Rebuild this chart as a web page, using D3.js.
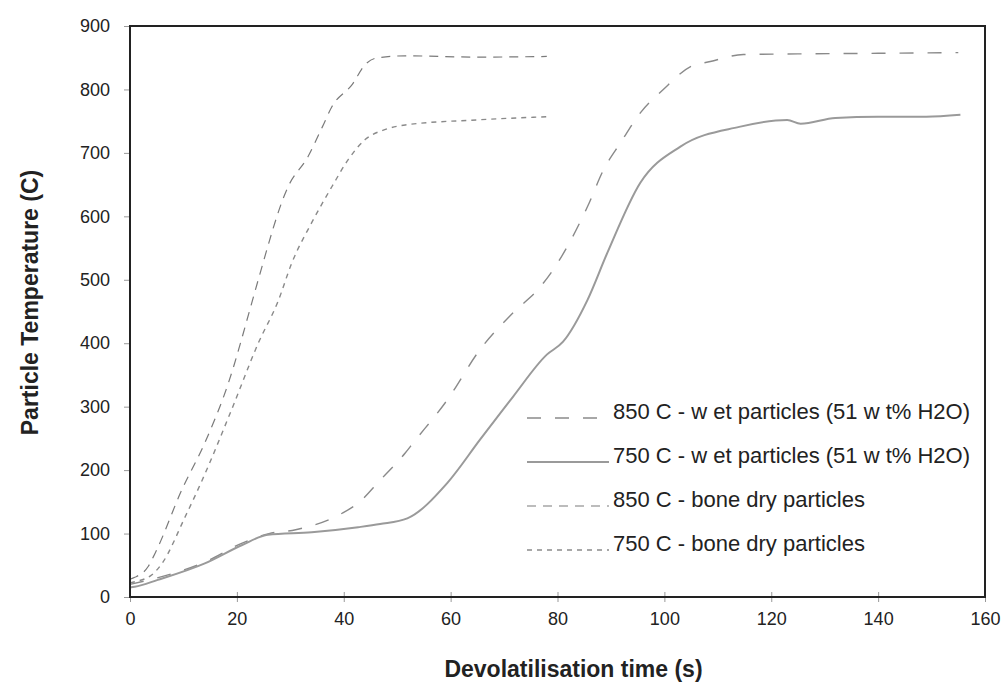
<!DOCTYPE html>
<html>
<head>
<meta charset="utf-8">
<script src="https://cdn.jsdelivr.net/npm/d3@7"></script>
<style>
  body { margin: 0; background: #fff; }
  svg { font-family: "Liberation Sans", Arial, sans-serif; }
  .axis text { font-size: 18px; fill: #222; }
  .axis path { display: none; }
  .axis line { stroke: #999; }
</style>
</head>
<body>
<svg id="chart" width="1003" height="683"></svg>
<script>
// time (s) / temperature (C)
const wet850Time = [0, 5, 14, 21, 26, 31, 39.7, 42.7, 46.8, 51.5, 53, 59.4, 65.5, 71.7, 76.8, 79.2, 85.6, 88.6, 91.8, 95.5, 99.8, 104.9, 108.6, 114.8, 125, 140, 155];
const wet850Temp = [20, 30, 55, 85, 100, 106, 132, 148, 184, 227, 243, 311, 390, 448, 489, 516, 615, 673, 716, 763, 800, 836, 844, 855, 856, 857, 858];

const wet750Time = [0, 0.9, 5.2, 14, 21, 25.8, 34, 42.7, 46.8, 51.9, 59.4, 65.5, 71.7, 78, 81, 85.6, 89.3, 95.5, 103, 114, 123, 125.5, 132, 140, 149, 155.4];
const wet750Temp = [15, 16, 27, 53, 82, 98, 102, 110, 115, 124, 180, 248, 316, 382, 402, 468, 542, 653, 710, 741, 752, 746, 755, 757, 757, 760];

const dry850Time = [0, 0.9, 3.4, 4.7, 9.7, 14, 18.4, 22.8, 24, 29.6, 33.3, 36, 37.8, 41.6, 44, 45.9, 51.5, 65, 78];
const dry850Temp = [28, 31, 48, 69, 169, 243, 337, 464, 500, 647, 694, 741, 773, 808, 839, 849, 853, 851, 852];

const dry750Time = [0, 0.9, 4.1, 6, 10.3, 13.5, 19, 24, 27.7, 30.3, 34, 37.8, 40.8, 44, 47.8, 51.5, 65, 78];
const dry750Temp = [22, 24, 35, 53, 126, 184, 295, 400, 466, 527, 590, 647, 689, 721, 737, 744, 752, 757];

const xTicks = [0, 20, 40, 60, 80, 100, 120, 140, 160];
const yTicks = [0, 100, 200, 300, 400, 500, 600, 700, 800, 900];

const seriesNames = ["850 C - w et particles (51 w t% H2O)", "750 C - w et particles (51 w t% H2O)", "850 C - bone dry particles", "750 C - bone dry particles"];

const svg = d3.select("#chart");
const margin = {top: 26, right: 18, bottom: 86, left: 130};
const width = 1003 - margin.left - margin.right;
const height = 683 - margin.top - margin.bottom;
const g = svg.append("g").attr("transform", "translate(" + margin.left + "," + margin.top + ")");

const x = d3.scaleLinear().domain([0, 160]).range([0, width]);
const y = d3.scaleLinear().domain([0, 900]).range([height, 0]);

const styles = [
  {dash: "14,14", color: "#8a8a8a", w: 1.4},
  {dash: null, color: "#9a9a9a", w: 2},
  {dash: "9,7", color: "#7a7a7a", w: 1.2},
  {dash: "5,5", color: "#8a8a8a", w: 1.4}
];

const series = [
  d3.zip(wet850Time, wet850Temp),
  d3.zip(wet750Time, wet750Temp),
  d3.zip(dry850Time, dry850Temp),
  d3.zip(dry750Time, dry750Temp)
];

// axes
g.append("g")
    .attr("class", "axis")
    .attr("transform", "translate(0," + height + ")")
    .call(d3.axisBottom(x).tickValues(xTicks).tickSize(5).tickPadding(10).tickFormat(d3.format("d")))
  .selectAll("line").attr("y1", -5);

g.append("g")
    .attr("class", "axis")
    .call(d3.axisLeft(y).tickValues(yTicks).tickSize(6).tickPadding(14).tickFormat(d3.format("d")));

const line = d3.line()
    .x(function(d) { return x(d[0]); })
    .y(function(d) { return y(d[1]); })
    .curve(d3.curveMonotoneX);

g.selectAll(".series")
    .data(series)
  .enter().append("path")
    .attr("class", "series")
    .attr("fill", "none")
    .attr("d", line)
    .attr("stroke", function(d, i) { return styles[i].color; })
    .attr("stroke-width", function(d, i) { return styles[i].w; })
    .attr("stroke-dasharray", function(d, i) { return styles[i].dash; });

// frame
g.append("rect")
    .attr("width", width)
    .attr("height", height)
    .attr("fill", "none")
    .attr("stroke", "#222")
    .attr("stroke-width", 2);

// legend
const legend = g.selectAll(".legend")
    .data(seriesNames)
  .enter().append("g")
    .attr("class", "legend")
    .attr("transform", function(d, i) { return "translate(397," + (392 + i * 44) + ")"; });

legend.append("line")
    .attr("x1", 0)
    .attr("x2", 82)
    .attr("stroke", function(d, i) { return styles[i].color; })
    .attr("stroke-width", function(d, i) { return styles[i].w; })
    .attr("stroke-dasharray", function(d, i) { return styles[i].dash; });

legend.append("text")
    .attr("x", 86)
    .attr("dy", "0.05em")
    .style("font-size", "22px")
    .attr("fill", "#222")
    .text(function(d) { return d; });

// axis titles
svg.append("text")
    .attr("transform", "translate(38," + (margin.top + height / 2 - 9) + ") rotate(-90)")
    .attr("text-anchor", "middle")
    .style("font-size", "23px")
    .style("font-weight", "bold")
    .attr("fill", "#222")
    .text("Particle Temperature (C)");

svg.append("text")
    .attr("x", margin.left + width / 2 + 16)
    .attr("y", 677)
    .attr("text-anchor", "middle")
    .style("font-size", "23px")
    .style("font-weight", "bold")
    .attr("fill", "#222")
    .text("Devolatilisation time (s)");
</script>
</body>
</html>
